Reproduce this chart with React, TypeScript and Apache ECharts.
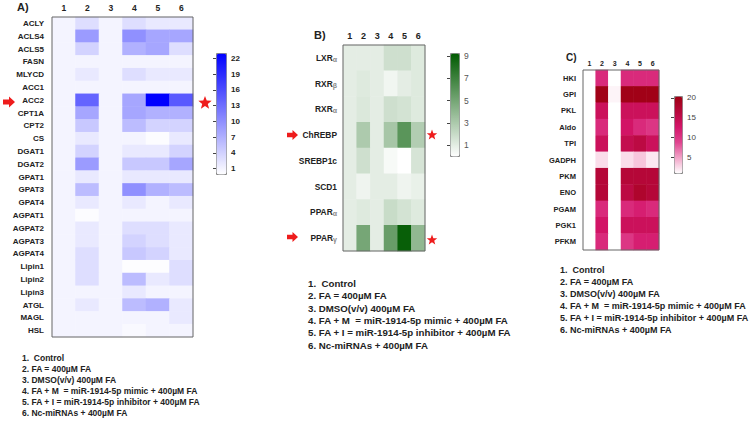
import React, { useEffect, useRef } from "react";
import * as echarts from "echarts";

const columns = ["1", "2", "3", "4", "5", "6"];

const genesA = ["ACLY", "ACLS4", "ACLS5", "FASN", "MLYCD", "ACC1", "ACC2", "CPT1A", "CPT2", "CS", "DGAT1", "DGAT2", "GPAT1", "GPAT3", "GPAT4", "AGPAT1", "AGPAT2", "AGPAT3", "AGPAT4", "Lipin1", "Lipin2", "Lipin3", "ATGL", "MAGL", "HSL"];
const valuesA = [
  [1, 3, 1, 3, 2, 2],
  [1, 9, 1, 10, 8, 8],
  [1, 4, 1, 7, 8, 3],
  [1, 1, 1, 1, 1, 1],
  [1, 2, 1, 3, 2, 2],
  [1, 1, 1, 1, 1, 1],
  [1, 14, 1, 8, 23, 15],
  [1, 8, 1, 8, 7, 7],
  [1, 5, 1, 6, 4, 4],
  [1, 2, 1, 1, 0.3, 2],
  [1, 4, 1, 2, 2, 4],
  [1, 9, 1, 5, 5, 8],
  [1, 2, 1, 2, 2, 2],
  [1, 6, 1, 10, 7, 6],
  [1, 2, 1, 2, 1, 2],
  [1, 0.3, 1, 1, 1, 1],
  [1, 2, 1, 3, 3, 2],
  [1, 2, 1, 4, 3, 2],
  [1, 3, 1, 5, 4, 2],
  [1, 3, 1, 0.2, 0.2, 3],
  [1, 3, 1, 6, 2, 3],
  [1, 1, 1, 2, 1, 1],
  [1, 2, 1, 6, 7, 2],
  [1, 1, 1, 1, 1, 2],
  [1, 1, 1, 0.5, 1, 1],
];
const ticksA = [1, 4, 7, 10, 13, 16, 19, 22];

const genesB = ["LXRα", "RXRβ", "RXRα", "ChREBP", "SREBP1c", "SCD1", "PPARα", "PPARγ"];
const valuesB = [
  [1, 1, 1, 1.8, 1.8, 1.2],
  [1, 1.2, 1, 0.5, 1, 1.2],
  [1, 1.3, 1, 1.8, 1.6, 1.2],
  [1, 3, 1, 3.2, 6, 2.8],
  [1, 1.8, 1, 0.3, 0, 1.5],
  [1, 0.6, 1, 1, 0.6, 0.8],
  [1, 1.2, 1, 2, 1.6, 1.2],
  [1, 5, 1, 5.5, 9, 4],
];
const ticksB = [1, 3, 5, 7, 9];

const genesC = ["HKI", "GPI", "PKL", "Aldo", "TPI", "GADPH", "PKM", "ENO", "PGAM", "PGK1", "PFKM"];
const valuesC = [
  [1, 11, 1, 11, 11, 11],
  [1, 20, 1.5, 20, 20, 20],
  [1, 14, 1, 14, 14, 14],
  [1, 11, 1, 13, 11, 10],
  [1, 14, 1, 15, 16, 14],
  [1, 2.5, 1, 2.5, 3.5, 2],
  [1, 17, 1, 17, 17, 17],
  [1, 17, 1, 16, 18, 17],
  [1, 11, 1, 11, 12, 11],
  [1, 13, 1, 14, 14, 14],
  [1, 11, 1, 10, 12, 12],
];
const ticksC = [5, 10, 15, 20];

const treatments = [
  "1.  Control",
  "2. FA = 400\u00b5M FA",
  "3. DMSO(v/v) 400\u00b5M FA",
  "4. FA + M  = miR-1914-5p mimic + 400\u00b5M FA",
  "5. FA + I = miR-1914-5p inhibitor + 400\u00b5M FA",
  "6. Nc-miRNAs + 400\u00b5M FA",
];

const FONT = "Liberation Sans, Arial, sans-serif";

function toCells(values: number[][]) {
  const out: number[][] = [];
  values.forEach((row, r) => row.forEach((v, c) => out.push([c, r, v])));
  return out;
}

function starPoints(cx: number, cy: number, R: number) {
  const pts: number[][] = [];
  const r = R * 0.42;
  for (let i = 0; i < 10; i++) {
    const a = -Math.PI / 2 + (i * Math.PI) / 5;
    const rr = i % 2 === 0 ? R : r;
    pts.push([cx + rr * Math.cos(a), cy + rr * Math.sin(a)]);
  }
  return pts;
}

function arrowPoints(x: number, cy: number, w: number, h: number) {
  const sx = x + w * 0.5;
  return [
    [x, cy - h * 0.22],
    [sx, cy - h * 0.22],
    [sx, cy - h / 2],
    [x + w, cy],
    [sx, cy + h / 2],
    [sx, cy + h * 0.22],
    [x, cy + h * 0.22],
  ];
}

const RED = "#ee1c1c";

export default function App() {
  const ref = useRef<HTMLDivElement>(null);
  useEffect(() => {
    document.body.style.margin = "0";
    const chart = echarts.init(ref.current!, null, { renderer: "svg" });

    const panels = [
      { grid: { left: 52, top: 17, width: 141, height: 320 }, genes: genesA, vals: valuesA, labelSize: 8, labelMargin: 8, colSize: 8.5, colMargin: 5, bold: "bold" },
      { grid: { left: 343, top: 45, width: 82, height: 206 }, genes: genesB, vals: valuesB, labelSize: 8.4, labelMargin: 6, colSize: 9, colMargin: 5, bold: "bold" },
      { grid: { left: 583, top: 70, width: 76, height: 180 }, genes: genesC, vals: valuesC, labelSize: 7.5, labelMargin: 7, colSize: 7, colMargin: 3, bold: "bold" },
    ];
    const bars = [
      { left: 216, top: 53, w: 10, h: 121, min: 0, max: 23, ticks: ticksA, colors: ["#ffffff", "#0000ff"], lsize: 8, lcolor: "#222" },
      { left: 450, top: 53, w: 9, h: 103, min: 0, max: 9.3, ticks: ticksB, colors: ["#ffffff", "#005a00"], lsize: 8.5, lcolor: "#555" },
      { left: 674, top: 96, w: 8, h: 77, min: 1, max: 20.5, ticks: ticksC, colors: ["#ffffff", "#f2a6c9", "#e04590", "#d4156a", "#b8083c", "#9e0012"], lsize: 8, lcolor: "#444" },
    ];

    const grids: any[] = [];
    const xAxes: any[] = [];
    const yAxes: any[] = [];
    const series: any[] = [];
    const visualMaps: any[] = [];

    panels.forEach((p, i) => {
      grids.push({ ...p.grid, outerBoundsMode: "none", containLabel: false });
      xAxes.push({
        type: "category",
        gridIndex: i,
        data: columns,
        position: "top",
        axisLine: { show: false },
        axisTick: { show: false },
        splitLine: { show: false },
        axisLabel: { fontFamily: FONT, fontWeight: "bold", fontSize: p.colSize, color: "#222", margin: p.colMargin },
      });
      yAxes.push({
        type: "category",
        gridIndex: i,
        data: p.genes,
        inverse: true,
        axisLine: { show: false },
        axisTick: { show: false },
        splitLine: { show: false },
        axisLabel: {
          fontFamily: FONT,
          fontWeight: p.bold,
          fontSize: p.labelSize,
          color: "#222",
          margin: p.labelMargin,
          formatter: (v: string) => v.replace(/([αβγ])$/, "{g|$1}"),
          rich: { g: { fontFamily: FONT, fontSize: 7, color: "#888", padding: [3, 0, 0, 0] } },
        },
      });
      series.push({
        type: "heatmap",
        xAxisIndex: i,
        yAxisIndex: i,
        data: toCells(p.vals),
        itemStyle: { borderWidth: 0 },
        emphasis: { disabled: true },
      });
    });

    bars.forEach((b, i) => {
      visualMaps.push({
        type: "continuous",
        seriesIndex: i,
        min: b.min,
        max: b.max,
        inRange: { color: b.colors },
        left: b.left,
        top: b.top,
        itemWidth: b.w,
        itemHeight: b.h,
        orient: "vertical",
        calculable: false,
        hoverLink: false,
        padding: 0,
        text: null,
        showLabel: false,
        borderColor: "#888",
        borderWidth: 1,
      });
      const gi = 3 + i;
      grids.push({ left: b.left, top: b.top, width: b.w, height: b.h, outerBoundsMode: "none", containLabel: false });
      xAxes.push({ type: "value", gridIndex: gi, show: false, min: 0, max: 1 });
      yAxes.push({
        type: "value",
        gridIndex: gi,
        min: b.min,
        max: b.max,
        position: "right",
        z: 10,
        axisLine: { show: false },
        splitLine: { show: false },
        axisTick: { show: true, inside: true, length: 3, lineStyle: { color: "#444" }, customValues: b.ticks },
        axisLabel: { fontFamily: FONT, fontWeight: i === 0 ? "bold" : "normal", fontSize: b.lsize, color: b.lcolor, margin: 5, customValues: b.ticks },
      });
    });

    const legendText = treatments.join("\n");
    const graphic: any[] = [
      { type: "text", left: 17, top: 1, style: { text: "A)", fontFamily: FONT, fontWeight: "bold", fontSize: 11, fill: "#222" } },
      { type: "text", left: 314, top: 29, style: { text: "B)", fontFamily: FONT, fontWeight: "bold", fontSize: 11, fill: "#222" } },
      { type: "text", left: 566, top: 52, style: { text: "C)", fontFamily: FONT, fontWeight: "bold", fontSize: 10, fill: "#222" } },
      { type: "text", left: 22, top: 352, style: { text: legendText, fontFamily: FONT, fontWeight: "bold", fontSize: 8.5, lineHeight: 11, fill: "#222" } },
      { type: "text", left: 308, top: 277, style: { text: legendText, fontFamily: FONT, fontWeight: "bold", fontSize: 9.7, lineHeight: 12.4, fill: "#222" } },
      { type: "text", left: 560, top: 264, style: { text: legendText, fontFamily: FONT, fontWeight: "bold", fontSize: 9, lineHeight: 12, fill: "#222" } },
      { type: "rect", shape: { x: 52, y: 17, width: 141, height: 320 }, style: { fill: "none", stroke: "#666", lineWidth: 1 }, z: 100 },
      { type: "rect", shape: { x: 343, y: 45, width: 82, height: 206 }, style: { fill: "none", stroke: "#666", lineWidth: 1 }, z: 100 },
      { type: "rect", shape: { x: 583, y: 70, width: 76, height: 180 }, style: { fill: "none", stroke: "#666", lineWidth: 1 }, z: 100 },
      { type: "polygon", shape: { points: arrowPoints(3, 102, 12, 11) }, style: { fill: RED }, z: 100 },
      { type: "polygon", shape: { points: arrowPoints(287, 135, 11, 10) }, style: { fill: RED }, z: 100 },
      { type: "polygon", shape: { points: arrowPoints(287, 237, 11, 10) }, style: { fill: RED }, z: 100 },
      { type: "polygon", shape: { points: starPoints(205, 103, 7) }, style: { fill: RED }, z: 100 },
      { type: "polygon", shape: { points: starPoints(432, 135, 5.5) }, style: { fill: RED }, z: 100 },
      { type: "polygon", shape: { points: starPoints(432, 240, 5.5) }, style: { fill: RED }, z: 100 },
    ];

    chart.setOption({
      animation: false,
      backgroundColor: "#ffffff",
      grid: grids,
      xAxis: xAxes,
      yAxis: yAxes,
      visualMap: visualMaps,
      series,
      graphic,
    });
    return () => chart.dispose();
  }, []);
  return <div ref={ref} style={{ width: 750, height: 421 }} />;
}
